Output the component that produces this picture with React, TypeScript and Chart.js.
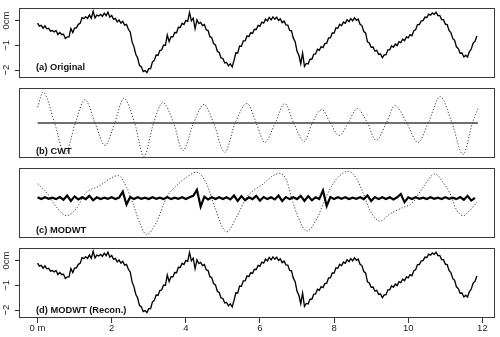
import React, { useEffect, useRef } from 'react';
import { Chart, registerables } from 'chart.js';

Chart.register(...registerables);

// ---------------- data ----------------
// Surface profile sampled every 0.05 m (cm)
const profileStep = 0.05;
const originalProfile = [
  -0.10, -0.22, -0.19, -0.31, -0.21, -0.33, -0.31, -0.43, -0.40, -0.46, -0.40, -0.56, -0.48, -0.56, -0.55, -0.72, -0.66, -0.66, -0.32, -0.48,
  -0.30, -0.29, -0.15, -0.11, 0.12, 0.08, 0.16, 0.09, 0.23, 0.10, 0.38, 0.11, 0.22, 0.19, 0.25, 0.17, 0.30, 0.20, 0.34, 0.14,
  0.21, 0.05, 0.09, -0.05, 0.02, -0.10, -0.03, -0.18, -0.15, -0.35, -0.46, -0.86, -1.05, -1.36, -1.51, -1.81, -1.87, -2.06, -2.02, -2.10,
  -1.94, -1.94, -1.67, -1.61, -1.39, -1.40, -1.21, -1.18, -0.99, -1.00, -0.58, -0.85, -0.65, -0.66, -0.48, -0.49, -0.27, -0.28, -0.11, -0.16,
  0.01, -0.03, 0.33, -0.01, 0.10, -0.33, 0.03, -0.12, -0.07, -0.20, -0.16, -0.37, -0.40, -0.65, -0.69, -0.93, -0.98, -1.24, -1.29, -1.51,
  -1.53, -1.71, -1.69, -1.83, -1.75, -1.87, -1.61, -1.30, -1.31, -1.03, -1.04, -0.82, -0.82, -0.62, -0.65, -0.49, -0.52, -0.35, -0.36, -0.19,
  -0.23, -0.06, -0.10, 0.06, -0.01, 0.13, 0.03, 0.15, 0.06, 0.14, 0.01, 0.07, -0.08, -0.02, -0.17, -0.18, -0.40, -0.41, -0.71, -0.85,
  -1.24, -1.40, -1.74, -1.31, -1.85, -1.73, -1.75, -1.56, -1.56, -1.36, -1.35, -1.16, -1.20, -1.05, -1.09, -0.93, -0.91, -0.70, -0.70, -0.50,
  -0.50, -0.29, -0.31, -0.15, -0.21, -0.06, -0.11, 0.03, -0.04, 0.08, -0.01, 0.12, 0.01, 0.06, -0.15, -0.20, -0.44, -0.50, -0.86, -0.90,
  -1.08, -1.07, -1.23, -1.20, -1.37, -1.34, -1.50, -1.39, -1.38, -1.18, -1.18, -1.02, -1.08, -0.95, -1.01, -0.85, -0.89, -0.75, -0.81, -0.66,
  -0.70, -0.57, -0.61, -0.41, -0.37, -0.16, -0.16, -0.01, 0.00, 0.14, 0.12, 0.26, 0.22, 0.31, 0.25, 0.34, 0.20, 0.21, 0.04, 0.04,
  -0.14, -0.16, -0.40, -0.48, -0.72, -0.80, -1.06, -1.13, -1.32, -1.31, -1.47, -1.40, -1.47, -1.25, -1.15, -0.91, -0.84, -0.62,
];
// MODWT reconstruction is visually identical to the original
const reconstructedProfile = [...originalProfile];

// CWT component (dotted wave) and its zero line
const cwtDistance = [
  0.0, 0.15, 0.46, 0.74, 1.02, 1.28, 1.55, 1.82, 2.08, 2.33, 2.62, 2.87, 3.13, 3.38, 3.67, 3.92, 4.21, 4.49, 4.75, 5.05,
  5.33, 5.65, 5.90, 6.13, 6.41, 6.67, 6.91, 7.19, 7.41, 7.67, 7.90, 8.13, 8.38, 8.62, 8.90, 9.13, 9.41, 9.64, 9.96, 10.26,
  10.54, 10.86, 11.18, 11.48, 11.73, 11.88,
];
const cwtValue = [
  0.53, 1.03, 0, -1.05, 0, 0.78, 0, -0.75, 0, 0.82, 0, -1.12, 0, 0.68, 0, -0.92, 0, 0.62, 0, -0.98,
  0, 0.65, 0, -0.65, 0, 0.65, 0, -0.62, 0, 0.45, 0, -0.42, 0, 0.48, 0, -0.58, 0, 0.58, 0, -0.65,
  0, 0.88, 0, -1.05, 0, 0.48,
];
const cwtZeroDistance = [0, 11.88];
const cwtZeroValue = [0, 0];

// MODWT smooth (dotted) and detail (solid noisy band)
const modwtSmoothDistance = [
  0.0, 0.24, 0.51, 0.78, 1.05, 1.28, 1.68, 1.95, 2.18, 2.40, 2.58, 2.76, 2.94, 3.21, 3.48, 3.75, 4.02, 4.29, 4.56, 4.78,
  5.10, 5.37, 5.64, 6.09, 6.36, 6.54, 6.72, 6.85, 7.03, 7.26, 7.53, 7.80, 8.07, 8.38, 8.61, 8.79, 8.97, 9.24, 9.51, 9.78,
  10.13, 10.40, 10.72, 10.94, 11.13, 11.31, 11.48, 11.66, 11.85,
];
const modwtSmoothValue = [
  0.64, 0.36, -0.14, -0.42, -0.18, 0.31, 0.58, 0.81, 0.92, 0.53, -0.03, -0.68, -1.05, -0.64, 0.19, 0.58, 0.86, 1.03, 0.64, -0.14,
  -0.97, -0.47, 0.19, 0.64, 0.92, 0.99, 0.75, 0.19, -0.47, -0.94, -0.53, 0.25, 0.81, 1.06, 0.81, 0.31, -0.25, -0.61, -0.36, -0.19,
  0.03, 0.53, 0.97, 0.69, 0.31, -0.25, -0.42, -0.25, 0.03,
];
const modwtDetailStep = 0.1;
const modwtDetail = [
  0.19, 0.13, 0.19, 0.14, 0.18, 0.13, 0.20, 0.11, 0.25, 0.07,
  0.22, 0.12, 0.19, 0.13, 0.24, 0.09, 0.19, 0.13, 0.18, 0.14,
  0.19, 0.13, 0.18, 0.38, -0.05, 0.20, 0.13, 0.19, 0.14, 0.18,
  0.13, 0.19, 0.14, 0.18, 0.13, 0.20, 0.13, 0.18, 0.14, 0.19,
  0.13, 0.19, 0.24, 0.44, -0.12, 0.21, 0.12, 0.19, 0.13, 0.19,
  0.13, 0.19, 0.12, 0.25, 0.07, 0.23, 0.09, 0.19, 0.13, 0.24,
  0.08, 0.20, 0.13, 0.19, 0.12, 0.25, 0.07, 0.20, 0.13, 0.19,
  0.13, 0.24, 0.07, 0.23, 0.09, 0.19, 0.13, 0.42, -0.10, 0.20,
  0.13, 0.19, 0.14, 0.19, 0.13, 0.18, 0.14, 0.19, 0.13, 0.25,
  0.07, 0.20, 0.13, 0.19, 0.13, 0.19, 0.12, 0.19, 0.30, 0.03,
  0.19, 0.13, 0.19, 0.14, 0.18, 0.13, 0.19, 0.14, 0.18, 0.13,
  0.19, 0.14, 0.18, 0.13, 0.20, 0.11, 0.24, 0.08, 0.17,
];

const distanceTicks = [0, 2, 4, 6, 8, 10, 12];
const distanceTickLabels = ['0 m', '2', '4', '6', '8', '10', '12'];
const profileTicks = [-2, -1, 0];
const profileTickLabels = ['\u22122', '\u22121', '0cm'];
const panelTitles = ['(a) Original', '(b) CWT', '(c) MODWT', '(d) MODWT (Recon.)'];

// ---------------- helpers ----------------
const FONT = '"Liberation Sans", Arial, Helvetica, sans-serif';
const X_MIN = -0.5;
const X_MAX = 12.34;

const pairs = (xs: number[], ys: number[]) => xs.map((x, i) => ({ x, y: ys[i] }));
const sampled = (vals: number[], step: number) => vals.map((y, i) => ({ x: Math.round(i * step * 100) / 100, y }));

const panelDecor = {
  id: 'panelDecor',
  afterDraw(chart: any, _args: any, opts: any) {
    const { ctx, chartArea: a } = chart;
    ctx.save();
    ctx.strokeStyle = '#3a3a3a';
    ctx.lineWidth = 1;
    ctx.strokeRect(a.left + 0.5, a.top + 0.5, a.right - a.left - 1, a.bottom - a.top - 1);
    ctx.font = `bold 9.3px ${FONT}`;
    ctx.fillStyle = '#111';
    ctx.textBaseline = 'alphabetic';
    ctx.textAlign = 'left';
    ctx.fillText(opts.title, 36, a.bottom - opts.titleOffset);
    ctx.restore();
  },
};

const profileLine = (vals: number[]) => ({
  data: sampled(vals, profileStep),
  borderColor: '#000',
  borderWidth: 1.35,
  pointRadius: 0,
  tension: 0,
});

const dottedLine = (xs: number[], ys: number[]) => ({
  data: pairs(xs, ys),
  borderColor: '#3c3c3c',
  borderWidth: 1,
  borderDash: [1.2, 1.8],
  pointRadius: 0,
  cubicInterpolationMode: 'monotone',
});

type Spec = {
  key: string;
  top: number;
  height: number;
  pad: { top: number; bottom: number; left: number; right: number };
  profileAxis: boolean;
  xAxis: boolean;
  yMin: number;
  yMax: number;
  title: string;
  titleOffset: number;
  datasets: any[];
};

const panels: Spec[] = [
  {
    key: 'a', top: 0, height: 80, pad: { top: 8, bottom: 2, left: 0, right: 5 },
    profileAxis: true, xAxis: false, yMin: -2.32, yMax: 0.51,
    title: panelTitles[0], titleOffset: 8,
    datasets: [profileLine(originalProfile)],
  },
  {
    key: 'b', top: 80, height: 80, pad: { top: 8, bottom: 2, left: 19, right: 5 },
    profileAxis: false, xAxis: false, yMin: -1.17, yMax: 1.17,
    title: panelTitles[1], titleOffset: 4,
    datasets: [
      dottedLine(cwtDistance, cwtValue),
      { data: pairs(cwtZeroDistance, cwtZeroValue), borderColor: '#707070', borderWidth: 2, pointRadius: 0 },
    ],
  },
  {
    key: 'c', top: 160, height: 80, pad: { top: 8, bottom: 2, left: 19, right: 5 },
    profileAxis: false, xAxis: false, yMin: -1.17, yMax: 1.17,
    title: panelTitles[2], titleOffset: 5,
    datasets: [
      { data: sampled(modwtDetail, modwtDetailStep), borderColor: '#000', borderWidth: 2.2, pointRadius: 0, tension: 0 },
      dottedLine(modwtSmoothDistance, modwtSmoothValue),
    ],
  },
  {
    key: 'd', top: 240, height: 97, pad: { top: 8, bottom: 0, left: 0, right: 5 },
    profileAxis: true, xAxis: true, yMin: -2.32, yMax: 0.51,
    title: panelTitles[3], titleOffset: 5,
    datasets: [profileLine(reconstructedProfile)],
  },
];

function buildConfig(spec: Spec): any {
  const tickFont = { family: FONT, size: 9.5 };
  return {
    type: 'line',
    data: { datasets: spec.datasets },
    plugins: [panelDecor],
    options: {
      animation: false,
      responsive: false,
      events: [],
      layout: { padding: spec.pad, autoPadding: false },
      plugins: {
        legend: { display: false },
        tooltip: { enabled: false },
        panelDecor: { title: spec.title, titleOffset: spec.titleOffset },
      },
      scales: {
        x: {
          type: 'linear',
          min: X_MIN,
          max: X_MAX,
          display: spec.xAxis,
          position: 'bottom',
          afterBuildTicks: (s: any) => { s.ticks = distanceTicks.map((v) => ({ value: v })); },
          afterFit: (s: any) => {
            if (spec.xAxis) { s.height = 19; s.paddingLeft = 0; s.paddingRight = 0; }
          },
          grid: { drawOnChartArea: false, drawTicks: true, tickLength: 5, color: '#333', lineWidth: 1 },
          border: { display: false },
          ticks: {
            autoSkip: false, minRotation: 0, maxRotation: 0, padding: 0,
            color: '#222', font: tickFont,
            callback: (_v: any, i: number) => distanceTickLabels[i],
          },
        },
        y: {
          type: 'linear',
          min: spec.yMin,
          max: spec.yMax,
          display: spec.profileAxis,
          position: 'left',
          afterBuildTicks: (s: any) => { s.ticks = profileTicks.map((v) => ({ value: v })); },
          afterFit: (s: any) => {
            if (spec.profileAxis) { s.width = 19; s.paddingTop = 0; s.paddingBottom = 0; }
          },
          grid: { drawOnChartArea: false, drawTicks: true, tickLength: 4, color: '#333', lineWidth: 1 },
          border: { display: false },
          ticks: {
            minRotation: 90, maxRotation: 90, crossAlign: 'center', padding: 0,
            color: '#222', font: tickFont,
            callback: (_v: any, i: number) => profileTickLabels[i],
          },
        },
      },
    },
  };
}

function Panel({ spec }: { spec: Spec }) {
  const ref = useRef<HTMLCanvasElement>(null);
  useEffect(() => {
    const chart = new Chart(ref.current as HTMLCanvasElement, buildConfig(spec));
    return () => chart.destroy();
  }, [spec]);
  return (
    <canvas
      ref={ref}
      width={500}
      height={spec.height}
      style={{ position: 'absolute', left: 0, top: spec.top, width: 500, height: spec.height, display: 'block' }}
    />
  );
}

export default function App() {
  return (
    <div style={{ position: 'absolute', left: 0, top: 0, width: 500, height: 337, background: '#fff', overflow: 'hidden' }}>
      {panels.map((p) => (
        <Panel key={p.key} spec={p} />
      ))}
    </div>
  );
}
